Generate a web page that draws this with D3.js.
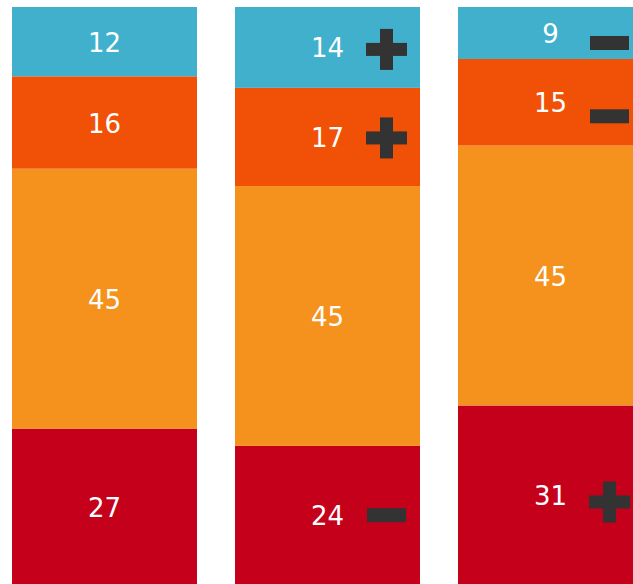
<!DOCTYPE html>
<html>
<head>
<meta charset="utf-8">
<script src="https://cdn.jsdelivr.net/npm/d3@7"></script>
<style>
  html, body { margin: 0; padding: 0; background: #fff; overflow: hidden; }
  svg { display: block; }
</style>
</head>
<body>
<svg id="chart" width="633" height="584"></svg>
<script>
// ---- data ----
const bars = ["A", "B", "C"];
const seriesKeys = ["bottom", "lower", "upper", "top"];
const bottomValues = [27, 24, 31];
const lowerValues = [45, 45, 45];
const upperValues = [16, 17, 15];
const topValues = [12, 14, 9];
const bottomSigns = [null, "-", "+"];
const lowerSigns = [null, null, null];
const upperSigns = [null, "+", "-"];
const topSigns = [null, "+", "-"];

// ---- styles / layout ----
const colors = { bottom: "#c5001a", lower: "#f5921e", upper: "#f15106", top: "#40b0cd" };
const iconNudge = { bottom: [0, 0, 7], lower: [0, 0, 0], upper: [0, 1, 14], top: [0, 2, 10] };

const valuesByKey = { bottom: bottomValues, lower: lowerValues, upper: upperValues, top: topValues };
const signsByKey = { bottom: bottomSigns, lower: lowerSigns, upper: upperSigns, top: topSigns };

const table = bars.map((b, i) => {
  const row = { bar: b };
  seriesKeys.forEach(k => row[k] = valuesByKey[k][i]);
  return row;
});

const stacked = d3.stack().keys(seriesKeys)(table);

const svg = d3.select("#chart");

const x = d3.scaleBand()
  .domain(bars)
  .range([12, 643])
  .paddingInner(38 / 223)
  .paddingOuter(0);

const y = d3.scaleLinear().domain([0, 100]).range([584.5, 7]);

const layers = svg.selectAll("g.layer")
  .data(stacked)
  .join("g")
  .attr("class", "layer")
  .attr("fill", d => colors[d.key]);

layers.selectAll("rect")
  .data(d => d)
  .join("rect")
  .attr("x", d => x(d.data.bar))
  .attr("y", d => y(d[1]))
  .attr("width", x.bandwidth())
  .attr("height", d => y(d[0]) - y(d[1]));

// labels
stacked.forEach(layer => {
  layer.forEach((d, i) => {
    const cx = x(d.data.bar) + x.bandwidth() / 2;
    const cy = (y(d[0]) + y(d[1])) / 2;
    svg.append("text")
      .attr("x", cx)
      .attr("y", cy + 1)
      .attr("text-anchor", "middle")
      .attr("dominant-baseline", "central")
      .attr("fill", "#fff")
      .attr("font-family", "DejaVu Sans, Verdana, sans-serif")
      .attr("font-size", 26)
      .text(d[1] - d[0]);

    const sign = signsByKey[layer.key][i];
    if (sign) {
      const ix = cx + 59;
      const iy = cy + iconNudge[layer.key][i];
      const g = svg.append("g").attr("fill", "#333333");
      if (sign === "+") {
        g.append("rect").attr("x", ix - 20.5).attr("y", iy - 6.5).attr("width", 41).attr("height", 13);
        g.append("rect").attr("x", ix - 6.5).attr("y", iy - 20.5).attr("width", 13).attr("height", 41);
      } else {
        g.append("rect").attr("x", ix - 19.5).attr("y", iy - 7).attr("width", 39).attr("height", 14);
      }
    }
  });
});
</script>
</body>
</html>
